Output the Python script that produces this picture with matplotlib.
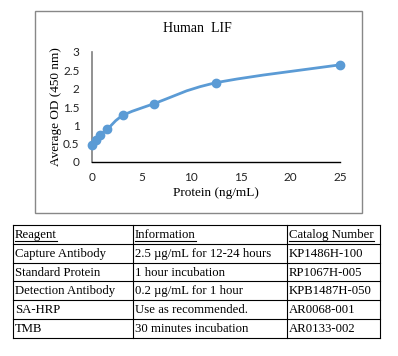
import matplotlib
matplotlib.use("Agg")
import matplotlib.pyplot as plt
from matplotlib.path import Path
from matplotlib.patches import PathPatch, Rectangle
from matplotlib.lines import Line2D

plt.rcParams['font.family'] = ['Liberation Serif', 'DejaVu Serif']

# ---- data ----
title = "Human  LIF"
conc = [0, 0.39, 0.78, 1.56, 3.125, 6.25, 12.5, 25]
od = [0.46, 0.59, 0.73, 0.90, 1.27, 1.59, 2.16, 2.65]
xticks = [0, 5, 10, 15, 20, 25]
yticks = [0, 0.5, 1, 1.5, 2, 2.5, 3]
ytick_labels = ["0", "0.5", "1", "1.5", "2", "2.5", "3"]
xlabel = "Protein (ng/mL)"
ylabel = "Average OD (450 nm)"

col_headers = ["Reagent", "Information", "Catalog Number"]
reagents = ["Capture Antibody", "Standard Protein", "Detection Antibody", "SA-HRP", "TMB"]
information = ["2.5 \u00b5g/mL for 12-24 hours", "1 hour incubation",
               "0.2 \u00b5g/mL for 1 hour", "Use as recommended.", "30 minutes incubation"]
catalog = ["KP1486H-100", "RP1067H-005", "KPB1487H-050", "AR0068-001", "AR0133-002"]

W, H = 398, 356
fig = plt.figure(figsize=(W / 100, H / 100), dpi=100)

# overlay axes in pixel coords for frames / table
ov = fig.add_axes([0, 0, 1, 1])
ov.set_xlim(0, W)
ov.set_ylim(H, 0)
ov.axis('off')

# chart border
ov.add_patch(Rectangle((34.5, 11), 327.5, 201.5, fill=False, ec='#888888', lw=1.0))

# plot axes
x0, x1 = 92, 340
y0, y1 = 162, 52
ax = fig.add_axes([x0 / W, 1 - y0 / H, (x1 - x0) / W, (y0 - y1) / H])
ax.set_xlim(0, 25)
ax.set_ylim(0, 3)
ax.set_facecolor('none')
for s in ['top', 'right']:
    ax.spines[s].set_visible(False)
ax.spines['left'].set_color('#7f7f7f')
ax.spines['left'].set_linewidth(1.2)
ax.spines['bottom'].set_color('black')
ax.spines['bottom'].set_linewidth(1.0)
ax.set_xticks(xticks)
ax.set_yticks(yticks)
ax.set_yticklabels(ytick_labels)
ax.tick_params(length=0, labelsize=8.5, pad=9)
ax.tick_params(axis='x', pad=7)
for lab in ax.get_xticklabels() + ax.get_yticklabels():
    lab.set_family(['Lato', 'DejaVu Sans'])
    lab.set_color('#222222')

# smooth line (Catmull-Rom -> cubic Bezier) through data points
verts = [(conc[0], od[0])]
codes = [Path.MOVETO]
n = len(conc)
for i in range(n - 1):
    p0 = (conc[max(i - 1, 0)], od[max(i - 1, 0)])
    p1 = (conc[i], od[i])
    p2 = (conc[i + 1], od[i + 1])
    p3 = (conc[min(i + 2, n - 1)], od[min(i + 2, n - 1)])
    t = 1 / 6
    c1 = (p1[0] + (p2[0] - p0[0]) * t, p1[1] + (p2[1] - p0[1]) * t)
    c2 = (p2[0] - (p3[0] - p1[0]) * t, p2[1] - (p3[1] - p1[1]) * t)
    verts += [c1, c2, p2]
    codes += [Path.CURVE4] * 3
ax.add_patch(PathPatch(Path(verts, codes), fill=False, ec='#5b9bd5', lw=2.0, clip_on=False))
ax.plot(conc, od, 'o', color='#5b9bd5', ms=6, clip_on=False, zorder=5)

ax.set_xlabel(xlabel, fontsize=9.5, labelpad=3)
ax.set_ylabel(ylabel, fontsize=9.5)
ax.yaxis.set_label_coords((62 - x0) / (x1 - x0), 0.5)
fig.text(197 / W, 1 - 28 / H, title, ha='center', va='center', fontsize=10)

# ---- table ----
cols = [13, 133, 287, 380]
rows = [225, 243.8, 262.6, 281.4, 300.2, 319, 338]
for c in cols:
    ov.add_line(Line2D([c, c], [rows[0], rows[-1]], color='black', lw=0.8))
for r in rows:
    ov.add_line(Line2D([cols[0], cols[-1]], [r, r], color='black', lw=0.8))

table_rows = [col_headers] + [list(t) for t in zip(reagents, information, catalog)]
hdr_texts = []
for ri, row in enumerate(table_rows):
    yc = (rows[ri] + rows[ri + 1]) / 2 + 0.5
    for ci, txt in enumerate(row):
        t = ov.text(cols[ci] + 2, yc, txt, ha='left', va='center', fontsize=9.2)
        if ri == 0:
            hdr_texts.append(t)

fig.canvas.draw()
r = fig.canvas.get_renderer()
for t in hdr_texts:
    bb = t.get_window_extent(renderer=r)
    yy = H - bb.y0 + 0.5
    ov.add_line(Line2D([bb.x0, bb.x1], [yy, yy], color='black', lw=0.8))

fig.savefig("out.png", dpi=100)
